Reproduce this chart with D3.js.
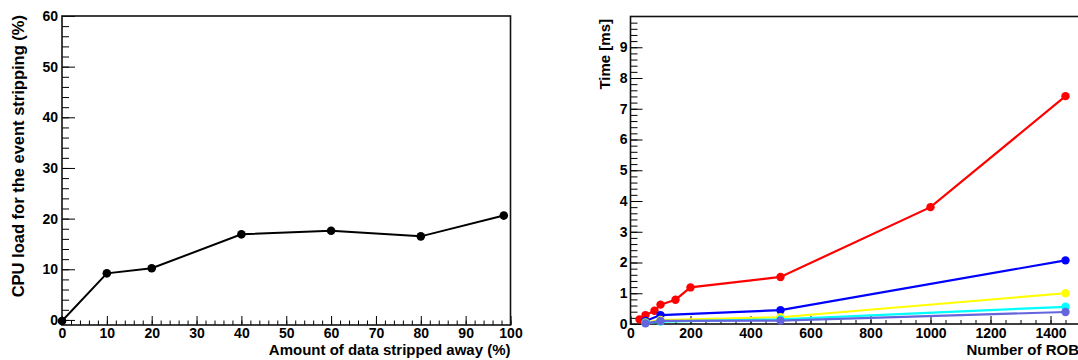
<!DOCTYPE html>
<html><head><meta charset="utf-8">
<script src="https://cdn.jsdelivr.net/npm/d3@7"></script>
<style>
html,body{margin:0;padding:0;background:#fff;}
svg{display:block;}
text{font-family:"Liberation Sans",Arial,Helvetica,sans-serif;font-weight:bold;fill:#000;}
</style></head>
<body>
<svg id="c" width="1078" height="360"></svg>
<script>
// ---- Left chart data ----
const stripX = [0, 10, 20, 40, 60, 80, 98.5];
const cpuLoad = [-0.2, 9.2, 10.2, 16.9, 17.6, 16.5, 20.6];
const leftXTicks = [0,10,20,30,40,50,60,70,80,90,100];
const leftYTicks = [0,10,20,30,40,50,60];

// ---- Right chart data ----
const robRed = [30, 50, 80, 100, 150, 200, 500, 1000, 1450];
const timeRed = [0.15, 0.29, 0.43, 0.63, 0.79, 1.19, 1.53, 3.8, 7.41];
const robOther = [50, 100, 500, 1450];
const timeBlue = [0.1, 0.29, 0.45, 2.07];
const timeYellow = [0.05, 0.13, 0.22, 1.0];
const timeCyan = [0.03, 0.08, 0.15, 0.56];
const timePurple = [0.02, 0.1, 0.11, 0.39];
const rightXTicks = [0,200,400,600,800,1000,1200,1400];
const rightYTicks = [0,1,2,3,4,5,6,7,8,9];

const svg = d3.select("#c");

function minorRange(a, b, s){ const r=[]; for(let v=a; v<=b+1e-9; v+=s) r.push(+v.toFixed(6)); return r; }

function drawAxes(g, x, y, o){
  const [x0,x1] = x.range(), [y0,y1] = y.range();
  g.append("g").attr("transform",`translate(0,${y0})`)
    .call(d3.axisBottom(x).tickValues(o.xMinor).tickSize(-o.xMinorLen).tickFormat(""))
    .call(s=>s.select(".domain").remove());
  g.append("g").attr("transform",`translate(0,${y0})`)
    .call(d3.axisBottom(x).tickValues(o.xTicks).tickSize(-o.xMajorLen).tickPadding(o.xPad).tickFormat(d3.format("d")))
    .call(s=>s.select(".domain").remove())
    .call(s=>s.selectAll("text").attr("font-size",o.fs).attr("fill","#000"));
  g.append("g").attr("transform",`translate(${x0},0)`)
    .call(d3.axisLeft(y).tickValues(o.yMinor).tickSize(-o.yMinorLen).tickFormat(""))
    .call(s=>s.select(".domain").remove());
  g.append("g").attr("transform",`translate(${x0},0)`)
    .call(d3.axisLeft(y).tickValues(o.yTicks).tickSize(-o.yMajorLen).tickPadding(o.yPad).tickFormat(d3.format("d")))
    .call(s=>s.select(".domain").remove())
    .call(s=>s.selectAll("text").attr("font-size",o.fs).attr("fill","#000"));
  g.selectAll(".tick line").attr("stroke","#000").attr("stroke-width",1);
  g.append("rect").attr("x",x0).attr("y",y1).attr("width",x1-x0).attr("height",y0-y1)
    .attr("fill","none").attr("stroke","#111").attr("stroke-width",1.6);
}

// ---------- Left chart ----------
const gL = svg.append("g");
const xL = d3.scaleLinear().domain([0,100]).range([62,510.5]);
const yL = d3.scaleLinear().domain([-1,60]).range([325,16]);
drawAxes(gL, xL, yL, {
  xTicks: leftXTicks, xMinor: minorRange(0,100,2), xMajorLen: 9, xMinorLen: 4.5, xPad: 3,
  yTicks: leftYTicks, yMinor: minorRange(0,60,2), yMajorLen: 13, yMinorLen: 7, yPad: 4,
  fs: "14px"
});
const lineL = d3.line().x((d,i)=>xL(stripX[i])).y((d,i)=>yL(cpuLoad[i]));
gL.append("path").datum(cpuLoad).attr("d",lineL).attr("fill","none").attr("stroke","#000").attr("stroke-width",2);
gL.selectAll("circle.pt").data(cpuLoad).enter().append("circle")
  .attr("cx",(d,i)=>xL(stripX[i])).attr("cy",d=>yL(d)).attr("r",4.3).attr("fill","#000");
gL.append("text").attr("x",510.5).attr("y",355).attr("text-anchor","end").attr("font-size","15px")
  .text("Amount of data stripped away (%)");
gL.append("text").attr("transform","translate(23.5,15) rotate(-90)").attr("text-anchor","end").attr("font-size","16.5px")
  .text("CPU load for the event stripping (%)");

// ---------- Right chart ----------
const gR = svg.append("g");
const xR = d3.scaleLinear().domain([0,1500]).range([630.5,1080.5]);
const yR = d3.scaleLinear().domain([0,10]).range([324,16.5]);
drawAxes(gR, xR, yR, {
  xTicks: rightXTicks, xMinor: minorRange(0,1450,50), xMajorLen: 8, xMinorLen: 4, xPad: 4,
  yTicks: rightYTicks, yMinor: minorRange(0,9.8,0.2), yMajorLen: 12, yMinorLen: 7, yPad: 3,
  fs: "14px"
});
const series = [
  {x: robRed, y: timeRed, c: "#ff0000"},
  {x: robOther, y: timeBlue, c: "#0000ff"},
  {x: robOther, y: timeYellow, c: "#ffff00"},
  {x: robOther, y: timeCyan, c: "#00ffff"},
  {x: robOther, y: timePurple, c: "#6464dc"}
];
series.forEach(s=>{
  const ln = d3.line().x((d,i)=>xR(s.x[i])).y((d,i)=>yR(s.y[i]));
  gR.append("path").datum(s.y).attr("d",ln).attr("fill","none").attr("stroke",s.c).attr("stroke-width",2.2);
  gR.selectAll(null).data(s.y).enter().append("circle")
    .attr("cx",(d,i)=>xR(s.x[i])).attr("cy",d=>yR(d)).attr("r",4.2).attr("fill",s.c);
});
gR.append("text").attr("x",1079).attr("y",355).attr("text-anchor","end").attr("font-size","15px")
  .text("Number of ROB");
gR.append("text").attr("transform","translate(610,19) rotate(-90)").attr("text-anchor","end").attr("font-size","15px")
  .text("Time [ms]");
</script>
</body></html>
